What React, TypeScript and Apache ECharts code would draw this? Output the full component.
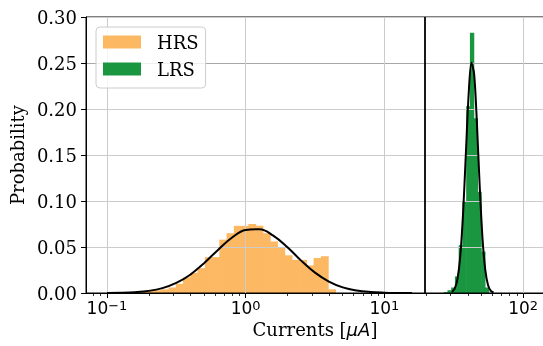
import React, { useEffect, useRef } from 'react';
import * as echarts from 'echarts';

// ---- data ----
const hrsFirstEdgeLog10 = -0.9203;
const hrsBinWidthLog10 = 0.0523;
const hrsProbability = [
  0.0008, 0.001, 0.001, 0.002, 0.003, 0.003, 0.004, 0.006, 0.010, 0.017,
  0.022, 0.027, 0.039, 0.039, 0.058, 0.065, 0.073, 0.073, 0.075, 0.073,
  0.065, 0.056, 0.050, 0.041, 0.036, 0.036, 0.030, 0.038, 0.040, 0.004,
];

const lrsFirstEdgeLog10 = 1.4297;
const lrsBinWidthLog10 = 0.027;
const lrsProbability = [0.001, 0.003, 0.006, 0.018, 0.052, 0.099, 0.203, 0.283, 0.19, 0.11, 0.045, 0.006];

const hrsFitCurrent = [0.1, 0.126, 0.158, 0.2, 0.251, 0.316, 0.398, 0.501, 0.631, 0.794, 1.0, 1.26, 1.58, 2.0, 2.51, 3.16, 3.98, 5.01, 6.31, 7.94, 10.0, 12.6, 15.8];
const hrsFitProbability = [0.0001, 0.0003, 0.0009, 0.0023, 0.0053, 0.0109, 0.0199, 0.0324, 0.0468, 0.0601, 0.0685, 0.0693, 0.0623, 0.0497, 0.0352, 0.0221, 0.0124, 0.0061, 0.0027, 0.0011, 0.0004, 0.0001, 0.0];

const lrsFitCurrent = [30.69, 32.14, 33.65, 35.24, 36.9, 38.64, 40.46, 42.36, 44.36, 46.45, 48.64, 50.93, 53.33, 55.85, 58.48, 61.24];
const lrsFitProbability = [0.0012, 0.0047, 0.0152, 0.04, 0.0859, 0.1504, 0.2149, 0.2504, 0.238, 0.1845, 0.1166, 0.0601, 0.0253, 0.0087, 0.0024, 0.0006];

const thresholdCurrent = 19.4;
const xDecadeLog10 = [-1, 0, 1, 2];
const supText: Record<string, string> = { '-1': '\u22121', '0': '0', '1': '1', '2': '2' };

// ---- axis extents ----
const X_LOG_MIN = -1.1514;
const X_LOG_MAX = 2.1507;

const HRS_COLOR = '#fdb863';
const LRS_COLOR = '#1a9641';

function binsFrom(first: number, width: number, probs: number[]) {
  return probs.map((p, i) => [
    Math.pow(10, first + i * width),
    Math.pow(10, first + (i + 1) * width),
    p,
  ]);
}

function minorTicks(): number[] {
  const out: number[] = [];
  for (let d = -2; d <= 2; d++) {
    for (let m = 2; m <= 9; m++) {
      const v = Math.log10(m) + d;
      if (v > X_LOG_MIN && v < X_LOG_MAX) out.push(v);
    }
  }
  return out;
}

function histSeries(name: string, color: string, data: number[][]) {
  return {
    type: 'custom',
    name,
    xAxisIndex: 0,
    yAxisIndex: 0,
    z: 1,
    itemStyle: { color },
    encode: { x: [0, 1], y: 2 },
    data,
    renderItem: (params: any, api: any) => {
      const p0 = api.coord([api.value(0), api.value(2)]);
      const p1 = api.coord([api.value(1), 0]);
      return {
        type: 'rect',
        shape: { x: p0[0] - 0.3, y: p0[1], width: p1[0] - p0[0] + 0.6, height: p1[1] - p0[1] },
        style: { fill: color },
      };
    },
  };
}

export default function App() {
  const ref = useRef<HTMLDivElement>(null);
  useEffect(() => {
    if (!ref.current) return;
    const chart = echarts.init(ref.current, null, { renderer: 'svg' });
    const serif = 'DejaVu Serif';
    const sans = 'DejaVu Sans';
    const gridColors = ['#cccccc', '#cccccc', '#cccccc', '#cccccc', '#cccccc', '#a8a8a8', '#cccccc'];
    chart.setOption({
      animation: false,
      grid: {
        left: 86, top: 17, width: 458, height: 276,
        outerBoundsMode: 'none', containLabel: false,
        show: true, borderColor: '#000', borderWidth: 1, z: 2,
      },
      legend: {
        orient: 'vertical',
        left: 96,
        top: 27,
        data: [{ name: 'HRS', icon: 'rect' }, { name: 'LRS', icon: 'rect' }],
        itemWidth: 38,
        itemHeight: 13,
        itemGap: 9,
        padding: [6, 7, 10, 7],
        backgroundColor: 'rgba(255,255,255,0.8)',
        borderColor: '#cccccc',
        borderWidth: 1,
        borderRadius: 4,
        selectedMode: false,
        textStyle: { fontFamily: serif, fontSize: 18, color: '#000', padding: [0, 0, 0, 11] },
        z: 10,
      },
      xAxis: [
        { type: 'log', logBase: 10, min: Math.pow(10, X_LOG_MIN), max: Math.pow(10, X_LOG_MAX), show: false },
        {
          type: 'value',
          min: X_LOG_MIN,
          max: X_LOG_MAX,
          position: 'bottom',
          z: 2,
          axisLine: { show: true, onZero: false, lineStyle: { color: '#000', width: 1 } },
          axisTick: { show: true, customValues: xDecadeLog10, length: 5, lineStyle: { color: '#000', width: 1 } },
          axisLabel: {
            customValues: xDecadeLog10,
            margin: 6,
            formatter: (v: number) => `{b|10}{s|${supText[String(Math.round(v))]}}`,
            rich: {
              b: { fontFamily: sans, fontSize: 17, color: '#000' },
              s: { fontFamily: sans, fontSize: 13, color: '#000', verticalAlign: 'top' },
            },
          },
          splitLine: { show: true, lineStyle: { color: '#cccccc', width: 1 } },
          name: '{a|Currents [}{m|\u03bcA}{a|]}',
          nameLocation: 'middle',
          nameGap: 22,
          nameTextStyle: {
            rich: {
              a: { fontFamily: serif, fontSize: 18, color: '#000' },
              m: { fontFamily: sans, fontStyle: 'italic', fontSize: 18, color: '#000' },
            },
          },
        },
        {
          type: 'value',
          min: X_LOG_MIN,
          max: X_LOG_MAX,
          position: 'bottom',
          z: 2,
          axisLine: { show: false },
          axisTick: { show: true, customValues: minorTicks(), length: 3, lineStyle: { color: '#000', width: 0.8 } },
          axisLabel: { show: false },
          splitLine: { show: false },
        },
      ],
      yAxis: {
        type: 'value',
        min: 0,
        max: 0.3,
        interval: 0.05,
        z: 2,
        axisLine: { show: true, onZero: false, lineStyle: { color: '#000', width: 1 } },
        axisTick: { show: true, length: 5, lineStyle: { color: '#000', width: 1 } },
        axisLabel: { formatter: (v: number) => v.toFixed(2), fontFamily: serif, fontSize: 18, color: '#000', margin: 9 },
        splitLine: { show: true, lineStyle: { color: gridColors, width: 1 } },
        name: 'Probability',
        nameLocation: 'middle',
        nameGap: 58,
        nameTextStyle: { fontFamily: serif, fontSize: 18, color: '#000' },
      },
      series: [
        histSeries('HRS', HRS_COLOR, binsFrom(hrsFirstEdgeLog10, hrsBinWidthLog10, hrsProbability)),
        histSeries('LRS', LRS_COLOR, binsFrom(lrsFirstEdgeLog10, lrsBinWidthLog10, lrsProbability)),
        {
          type: 'line',
          name: 'HRS fit',
          xAxisIndex: 0,
          z: 3,
          symbol: 'none',
          smooth: 0.4,
          lineStyle: { color: '#000', width: 2 },
          data: hrsFitCurrent.map((c, i) => [c, hrsFitProbability[i]]),
          markLine: {
            silent: true,
            symbol: 'none',
            label: { show: false },
            lineStyle: { color: '#000', width: 1.8, type: 'solid' },
            data: [{ xAxis: thresholdCurrent }],
          },
        },
        {
          type: 'line',
          name: 'LRS fit',
          xAxisIndex: 0,
          z: 3,
          symbol: 'none',
          smooth: 0.3,
          lineStyle: { color: '#000', width: 2 },
          data: lrsFitCurrent.map((c, i) => [c, lrsFitProbability[i]]),
        },
      ],
    });
    return () => chart.dispose();
  }, []);
  return <div ref={ref} style={{ position: 'fixed', left: 0, top: 0, width: 543, height: 346 }} />;
}
